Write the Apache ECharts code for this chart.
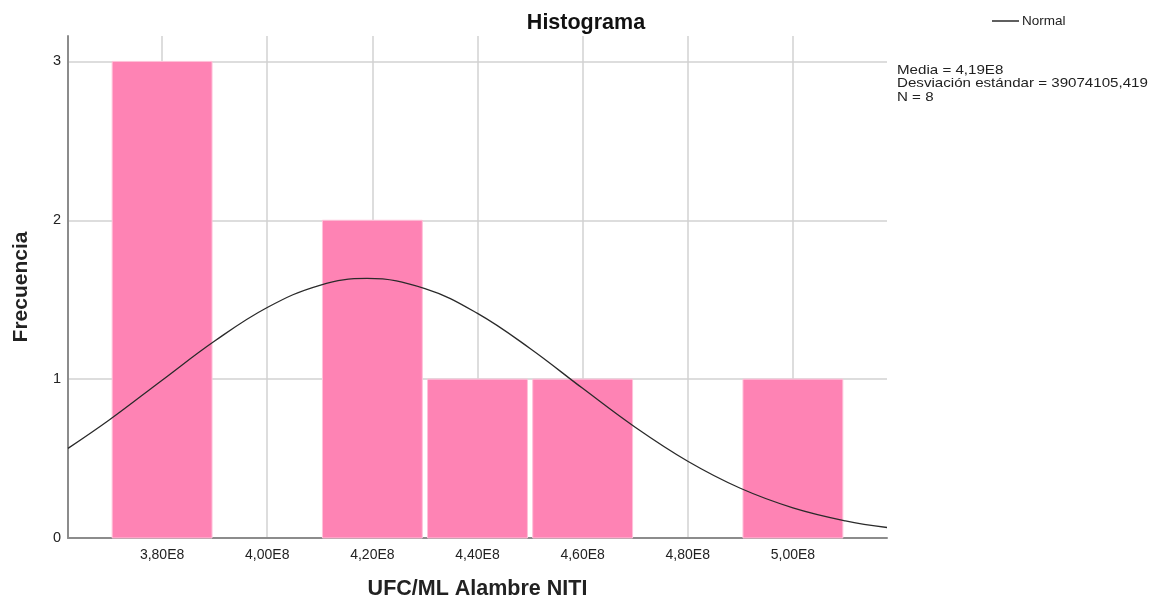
<!DOCTYPE html>
<html><head><meta charset="utf-8">
<script src="https://cdn.jsdelivr.net/npm/echarts@6/dist/echarts.min.js"></script>
<style>html,body{margin:0;padding:0;background:#fff}#c{width:1157px;height:605px}</style>
</head><body><div id="c"></div>
<script>
// Histogram bins (centre of bin, count)
const binCenters = [3.8e8, 4.2e8, 4.4e8, 4.6e8, 5.0e8];
const binCounts = [3, 2, 1, 1, 1];
const binWidth = 0.2e8;
// Normal curve
const curveX = [3.621e8, 3.7e8, 3.8e8, 3.9e8, 4.0e8, 4.1e8, 4.19e8, 4.3e8, 4.4e8, 4.5e8, 4.6e8, 4.7e8, 4.8e8, 4.9e8, 5.0e8, 5.1e8, 5.179e8];
const curveY = [0.564, 0.744, 0.993, 1.240, 1.451, 1.591, 1.634, 1.570, 1.414, 1.193, 0.942, 0.697, 0.483, 0.313, 0.190, 0.108, 0.066];
const xTicks = [3.8e8, 4.0e8, 4.2e8, 4.4e8, 4.6e8, 4.8e8, 5.0e8];
const yTicks = [0, 1, 2, 3];
const statsLines = ['Media = 4,19E8', 'Desviación estándar = 39074105,419', 'N = 8'];

const font = 'Liberation Sans, Arial, sans-serif';
const chart = echarts.init(document.getElementById('c'));
const fmtX = v => (v / 1e8).toFixed(2).replace('.', ',') + 'E8';

chart.setOption({
  animation: false,
  textStyle: { fontFamily: font },
  title: {
    text: 'Histograma', left: 581, top: 7, textAlign: 'center',
    textStyle: { fontFamily: font, fontSize: 21.5, fontWeight: 'bold', color: '#111' }
  },
  legend: {
    left: 987, top: 9, icon: 'rect', itemWidth: 27, itemHeight: 1.5, itemGap: 4,
    textStyle: { fontFamily: font, fontSize: 13.5, color: '#222', padding: [0, 0, 0, -2] },
    data: ['Normal']
  },
  grid: { left: 68, right: 270, top: 36, bottom: 65, containLabel: false },
  xAxis: {
    type: 'value', min: 3.621e8, max: 5.179e8,
    name: 'UFC/ML Alambre NITI', nameLocation: 'middle', nameGap: 40,
    nameTextStyle: { fontFamily: font, fontSize: 21.5, fontWeight: 'bold', color: '#222' },
    axisLine: { show: true, lineStyle: { color: '#8c8c8c', width: 2 } },
    axisTick: { show: false, customValues: xTicks },
    axisLabel: { customValues: xTicks, formatter: fmtX, fontFamily: font, fontSize: 14, color: '#222', margin: 10 },
    splitLine: { show: true, lineStyle: { color: '#d2d2d2', width: 1.5 } }
  },
  yAxis: {
    type: 'value', min: 0, max: 3.16,
    name: 'Frecuencia', nameLocation: 'middle', nameGap: 36,
    nameTextStyle: { fontFamily: font, fontSize: 21, fontWeight: 'bold', color: '#222' },
    axisLine: { show: true, lineStyle: { color: '#8c8c8c', width: 2 } },
    axisTick: { show: false, customValues: yTicks },
    axisLabel: { customValues: yTicks, fontFamily: font, fontSize: 14.5, color: '#222', margin: 7, padding: [4, 0, 0, 0] },
    splitLine: { show: true, lineStyle: { color: '#d2d2d2', width: 1.5 } }
  },
  series: [
    {
      type: 'custom', name: 'hist', z: 2,
      data: binCenters.map((c, i) => [c, binCounts[i]]),
      renderItem: function (params, api) {
        const c = api.value(0), n = api.value(1);
        const half = binWidth * 0.475;
        const p0 = api.coord([c - half, n]);
        const p1 = api.coord([c + half, 0]);
        return {
          type: 'rect',
          shape: { x: p0[0], y: p0[1], width: p1[0] - p0[0], height: p1[1] - p0[1] },
          style: { fill: '#fe83b4', stroke: '#ffc2da', lineWidth: 1 }
        };
      }
    },
    {
      type: 'line', name: 'Normal', z: 3,
      data: curveX.map((x, i) => [x, curveY[i]]),
      smooth: 0.4, showSymbol: false, symbol: 'none',
      lineStyle: { color: '#2a2a2a', width: 1.3 },
      itemStyle: { color: '#2a2a2a' }
    }
  ],
  graphic: statsLines.map((t, i) => ({
    type: 'text', x: 897, y: 63 + i * 13.5, scaleX: 1.12,
    style: { text: t, fontFamily: font, fontSize: 13.5, fill: '#222' }
  }))
});
</script></body></html>
